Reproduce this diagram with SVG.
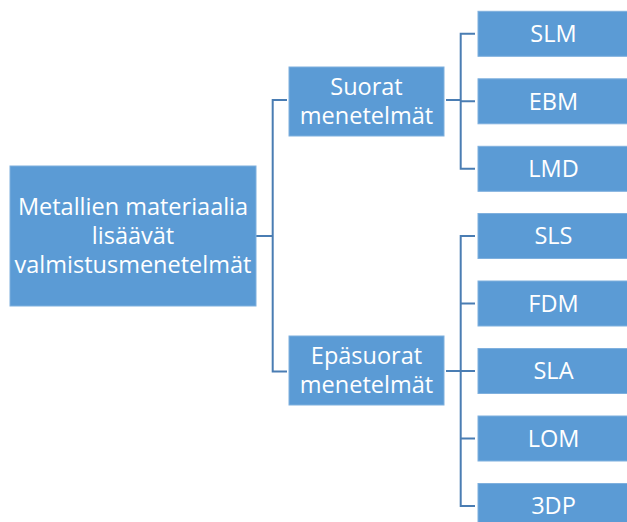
<svg xmlns="http://www.w3.org/2000/svg" width="627" height="522" viewBox="0 0 627 522">
<style>
.box{fill:#5B9BD5;stroke:#7FB0DE;stroke-width:1}
.t{fill:#fff;font-family:"Open Sans","Liberation Sans",sans-serif;font-size:23.5px;text-anchor:middle}
.c{fill:none;stroke:#4A7DB3;stroke-width:2}
</style>
<rect width="627" height="522" fill="#fff"/>
<g id="connectors">
<path class="c" d="M256 236H272.7M287 100H272.7V371.5H287"/>
<path class="c" d="M446 100H460.7M475 33.8H460.7V168.8H475M460.7 101.3H475"/>
<path class="c" d="M446 371H460.7M475 236H460.7V506H475M460.7 303.5H475M460.7 371H475M460.7 438.5H475"/>
</g>
<g id="root"><rect class="box" x="10" y="166" width="246" height="140"/>
<text class="t" x="133" y="215">Metallien materiaalia</text>
<text class="t" x="133" y="244">lisäävät</text>
<text class="t" x="133" y="273">valmistusmenetelmät</text></g>
<g id="suorat"><rect class="box" x="289" y="67" width="155" height="69"/>
<text class="t" x="366.5" y="94.5">Suorat</text>
<text class="t" x="366.5" y="123.5">menetelmät</text></g>
<g id="epasuorat"><rect class="box" x="289" y="336" width="155" height="69"/>
<text class="t" x="366.5" y="364">Epäsuorat</text>
<text class="t" x="366.5" y="393">menetelmät</text></g>
<g id="slm"><rect class="box" x="478" y="11.3" width="152" height="45"/><text class="t" x="553.5" y="42">SLM</text></g>
<g id="ebm"><rect class="box" x="478" y="78.8" width="152" height="45"/><text class="t" x="553.5" y="109.5">EBM</text></g>
<g id="lmd"><rect class="box" x="478" y="146.3" width="152" height="45"/><text class="t" x="553.5" y="177">LMD</text></g>
<g id="sls"><rect class="box" x="478" y="213.5" width="152" height="45"/><text class="t" x="553.5" y="244.2">SLS</text></g>
<g id="fdm"><rect class="box" x="478" y="281" width="152" height="45"/><text class="t" x="553.5" y="311.7">FDM</text></g>
<g id="sla"><rect class="box" x="478" y="348.5" width="152" height="45"/><text class="t" x="553.5" y="379.2">SLA</text></g>
<g id="lom"><rect class="box" x="478" y="416" width="152" height="45"/><text class="t" x="553.5" y="446.7">LOM</text></g>
<g id="p3dp"><rect class="box" x="478" y="483.5" width="152" height="45"/><text class="t" x="553.5" y="514.2">3DP</text></g>
</svg>
